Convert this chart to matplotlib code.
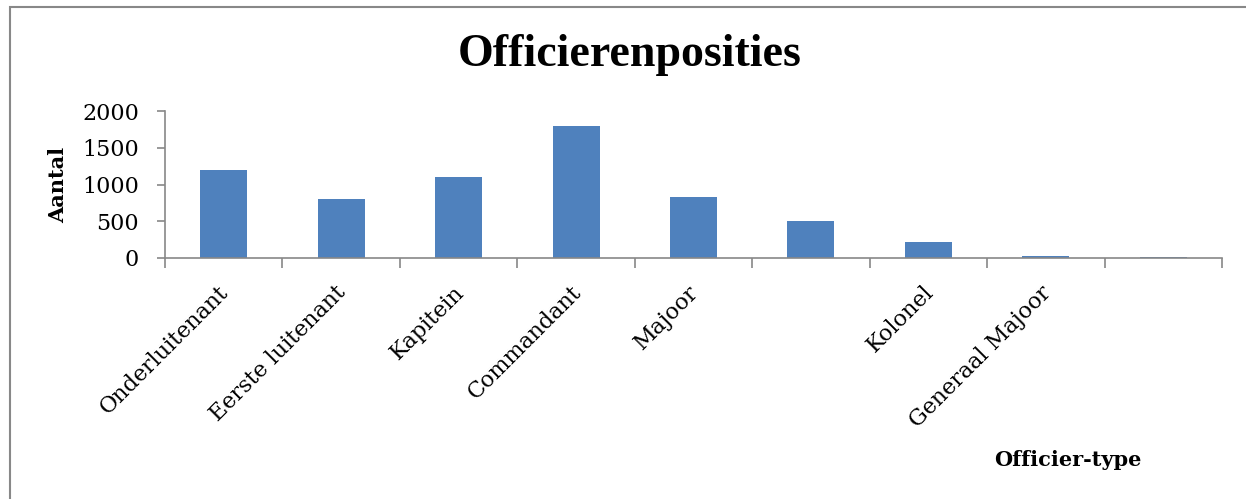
import matplotlib
matplotlib.use("Agg")
import matplotlib.pyplot as plt
import matplotlib.transforms as mtransforms
from matplotlib.patches import Rectangle

categories = ["Onderluitenant", "Eerste luitenant", "Kapitein", "Commandant",
              "Majoor", "", "Kolonel", "Generaal Majoor", ""]
values = [1200, 800, 1100, 1800, 830, 510, 220, 30, 10]
yticks = [0, 500, 1000, 1500, 2000]

plt.rcParams['font.family'] = ['DejaVu Serif']

fig = plt.figure(figsize=(12.46, 4.99), dpi=100)
W, H = 1246, 499
left, right, bottom, top = 165 / W, 1222 / W, 1 - 258 / H, 1 - 111 / H
ax = fig.add_axes([left, bottom, right - left, top - bottom])

x = list(range(len(categories)))
ax.bar(x, values, width=0.4, color='#4F81BD')
ax.set_xlim(-0.5, len(categories) - 0.5)
ax.set_ylim(0, 2000)
ax.set_yticks(yticks)
ax.tick_params(axis='y', labelsize=16, length=5.8, width=1.2, color='#888888', pad=13)

ax.set_xticks([i - 0.5 for i in range(len(categories) + 1)])
ax.set_xticklabels([])
ax.tick_params(axis='x', length=7, width=1.2, color='#888888')
ax.set_xticks(x, minor=True)
ax.set_xticklabels(categories, minor=True, rotation=45, ha='right',
                   rotation_mode='anchor', fontsize=16)
ax.tick_params(axis='x', which='minor', length=0, pad=17)
offset = mtransforms.ScaledTranslation(-6 / 100, 0, fig.dpi_scale_trans)
for lab in ax.get_xticklabels(minor=True):
    lab.set_transform(lab.get_transform() + offset)

for s in ['top', 'right']:
    ax.spines[s].set_visible(False)
for s in ['left', 'bottom']:
    ax.spines[s].set_color('#888888')
    ax.spines[s].set_linewidth(1.2)

fig.text(630 / W, 1 - 55 / H, "Officierenposities", ha='center', va='center',
         fontsize=33, fontweight='bold', family='Liberation Serif')
fig.text(58 / W, 1 - 185 / H, "Aantal", ha='center', va='center', rotation=90,
         fontsize=15, fontweight='bold')
fig.text(1068 / W, 1 - 460 / H, "Officier-type", ha='center', va='center',
         fontsize=15, fontweight='bold')

fig.patches.append(Rectangle((10 / W, -0.05), 1.2, 1 - 7 / H + 0.05,
                             transform=fig.transFigure, fill=False,
                             edgecolor='#888888', linewidth=1.5))

fig.savefig("out.png", dpi=100)
